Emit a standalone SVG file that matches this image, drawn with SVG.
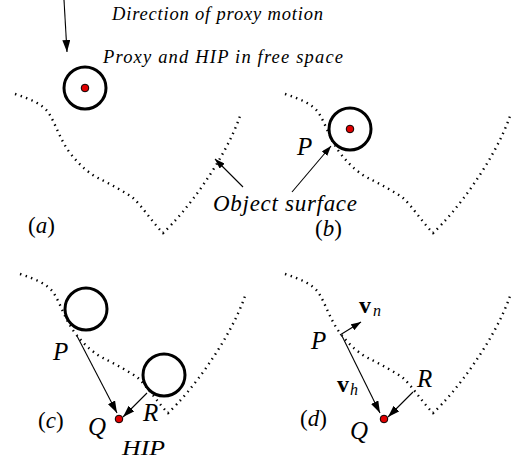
<svg xmlns="http://www.w3.org/2000/svg" width="519" height="464" viewBox="0 0 519 464" font-family="'Liberation Serif', 'DejaVu Serif', serif">
<style>
.surf{fill:none;stroke:#000;stroke-width:2.4;stroke-dasharray:1.4 4.4}
.prox{fill:#fff;stroke:#000;stroke-width:3}
.hip{fill:#e00000;stroke:#000;stroke-width:1}
.arr{fill:none;stroke:#000;stroke-width:1.1}
.t{font-family:'Liberation Serif','DejaVu Serif',serif;fill:#000}
.it{font-style:italic}
.lbl{font-style:italic;font-size:25px}
.cap{font-size:23px}
</style>
<defs>
<marker id="ah" markerWidth="12" markerHeight="8" refX="12" refY="4" orient="auto" markerUnits="userSpaceOnUse"><path d="M0,0 L12,4 L0,8 z" fill="#000"/></marker>
<marker id="as" markerWidth="10" markerHeight="7" refX="10" refY="3.5" orient="auto" markerUnits="userSpaceOnUse"><path d="M0,0 L10,3.5 L0,7 z" fill="#000"/></marker>
<path id="curve" d="M15,94 C30,99 42,104 48,112 C56,124 60,140 70,153 C80,166 90,174 100,179 C112,185 125,192 133,198 C143,207 152,222 163,233 C185,213 225,160 240,116"/>
</defs>

<g id="surfaces">
<use href="#curve" class="surf"/>
<use href="#curve" class="surf" transform="translate(270,0)"/>
<use href="#curve" class="surf" transform="translate(5,180)"/>
<use href="#curve" class="surf" transform="translate(270,180)"/>
</g>

<g id="panel-a">
<circle class="prox" cx="85" cy="88" r="21"/>
<circle class="hip" cx="85" cy="88" r="3.8"/>
<text x="28" y="233" class="t cap">(<tspan class="it">a</tspan>)</text>
</g>

<g id="panel-b">
<circle class="prox" cx="350" cy="129" r="21"/>
<circle class="hip" cx="350" cy="129" r="3.8"/>
<text x="297" y="155" class="t lbl">P</text>
<text x="315" y="236" class="t cap">(<tspan class="it">b</tspan>)</text>
</g>

<g id="panel-c">
<circle class="prox" cx="86" cy="309" r="21"/>
<circle class="prox" cx="164" cy="375" r="21"/>
<circle class="hip" cx="119" cy="419" r="3.8"/>
<text x="53" y="360" class="t lbl">P</text>
<text x="143" y="421" class="t lbl">R</text>
<text x="88" y="435" class="t lbl">Q</text>
<text x="122" y="455" class="t it" font-size="20" textLength="43" lengthAdjust="spacingAndGlyphs">HIP</text>
<text x="38" y="428" class="t cap">(<tspan class="it">c</tspan>)</text>
</g>

<g id="panel-d">
<circle class="hip" cx="384" cy="419" r="3.8"/>
<text x="311" y="349" class="t lbl">P</text>
<text x="417" y="387" class="t lbl">R</text>
<text x="350" y="439" class="t lbl">Q</text>
<text x="359" y="313" class="t" font-size="24" font-weight="bold">v</text>
<text x="373" y="316" class="t it" font-size="16">n</text>
<text x="337" y="392" class="t" font-size="24" font-weight="bold">v</text>
<text x="350" y="395" class="t it" font-size="16">h</text>
<text x="300" y="426" class="t cap">(<tspan class="it">d</tspan>)</text>
</g>

<g id="captions">
<text x="112" y="20" class="t it" font-size="18.5" textLength="211" lengthAdjust="spacing">Direction of proxy motion</text>
<text x="103" y="63" class="t it" font-size="18.5" textLength="240" lengthAdjust="spacing">Proxy and HIP in free space</text>
<text x="213" y="211" class="t it" font-size="23" textLength="144" lengthAdjust="spacing">Object surface</text>
</g>

<g id="connectors">
<line class="arr" x1="64" y1="0" x2="67" y2="52" marker-end="url(#ah)"/>
<line class="arr" x1="243" y1="187" x2="215" y2="159" marker-end="url(#as)"/>
<line class="arr" x1="292" y1="192" x2="331" y2="146" marker-end="url(#as)"/>
<line class="arr" x1="77" y1="336" x2="117" y2="413" marker-end="url(#ah)"/>
<line class="arr" x1="147" y1="393" x2="123" y2="417" marker-end="url(#ah)"/>
<line class="arr" x1="342" y1="336" x2="380" y2="413" marker-end="url(#ah)"/>
<line class="arr" x1="413" y1="392" x2="388" y2="417" marker-end="url(#ah)"/>
<line class="arr" x1="340" y1="335" x2="361" y2="322" marker-end="url(#as)"/>
</g>
</svg>
